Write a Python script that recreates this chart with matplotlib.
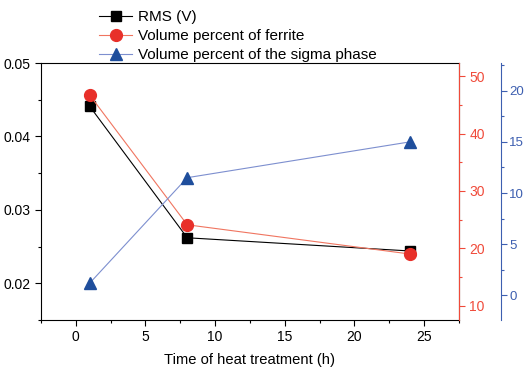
import numpy as np
import matplotlib.pyplot as plt
from matplotlib.ticker import MultipleLocator

plt.rcParams['font.family'] = ['Liberation Sans', 'DejaVu Sans']

# data
time_h = [1, 8, 24]
rms_v = [0.0441, 0.0262, 0.0244]
ferrite_pct = [46.7, 24.1, 19.0]
sigma_pct = [1.2, 11.5, 15.0]

black = '#000000'
red = '#e8302a'
red_line = '#f07560'
blue = '#1f4e9c'
blue_line = '#7d8fcf'
red_axis = '#f04a3a'
blue_axis = '#3d5fb0'

fig = plt.figure(figsize=(5.25, 3.68), dpi=100)
ax = fig.add_axes([0.078, 0.1304, 0.796, 0.6984])
ax2 = ax.twinx()
ax3 = ax.twinx()

l1, = ax.plot(time_h, rms_v, color=black, lw=0.8, marker='s', ms=7.5,
              mfc=black, mec=black, label='RMS (V)')
l2, = ax2.plot(time_h, ferrite_pct, color=red_line, lw=0.8, marker='o', ms=8.5,
               mfc=red, mec=red, label='Volume percent of ferrite')
l3, = ax3.plot(time_h, sigma_pct, color=blue_line, lw=0.8, marker='^', ms=9,
               mfc=blue, mec=blue, label='Volume percent of the sigma phase')

tick_fs = 10

# left axis
ax.set_xlim(-2.5, 27.5)
ax.set_ylim(0.015, 0.05)
ax.xaxis.set_major_locator(MultipleLocator(5))
ax.xaxis.set_minor_locator(MultipleLocator(2.5))
ax.yaxis.set_major_locator(MultipleLocator(0.01))
ax.yaxis.set_minor_locator(MultipleLocator(0.005))
ax.set_yticks([0.02, 0.03, 0.04, 0.05])
ax.tick_params(which='both', direction='out', labelsize=tick_fs, width=0.8)
ax.tick_params(which='major', length=4)
ax.tick_params(which='minor', length=2.5)
ax.set_xlabel('Time of heat treatment (h)', fontsize=10.6, labelpad=6)
for s in ['left', 'bottom', 'top']:
    ax.spines[s].set_linewidth(0.8)

# red axis
ax2.set_ylim(7.5, 52.3)
ax2.yaxis.set_major_locator(MultipleLocator(10))
ax2.yaxis.set_minor_locator(MultipleLocator(5))
ax2.spines['right'].set_color(red_axis)
ax2.spines['right'].set_linewidth(0.8)
ax2.tick_params(axis='y', which='both', colors=red_axis, labelsize=tick_fs, width=0.8)
ax2.tick_params(axis='y', which='major', length=4)
ax2.tick_params(axis='y', which='minor', length=2.5)

# blue axis, offset
ax3.set_ylim(-2.4, 22.7)
ax3.spines['right'].set_position(('axes', 1.102))
ax3.spines['right'].set_color(blue_axis)
ax3.spines['right'].set_linewidth(0.8)
ax3.yaxis.set_major_locator(MultipleLocator(5))
ax3.yaxis.set_minor_locator(MultipleLocator(2.5))
ax3.tick_params(axis='y', which='both', colors=blue_axis, labelsize=9.5, width=0.8, pad=1.5)
ax3.tick_params(axis='y', which='major', length=4)
ax3.tick_params(axis='y', which='minor', length=2.5)

for a in (ax2, ax3):
    a.spines['top'].set_visible(False)
    a.spines['left'].set_visible(False)
    a.spines['bottom'].set_visible(False)

fig.legend(handles=[l1, l2, l3], loc='upper left', bbox_to_anchor=(0.172, 0.995),
           frameon=False, fontsize=11, handlelength=2.2, handletextpad=0.4,
           labelspacing=0.32, borderaxespad=0.15)

fig.savefig('out.png', dpi=100)
